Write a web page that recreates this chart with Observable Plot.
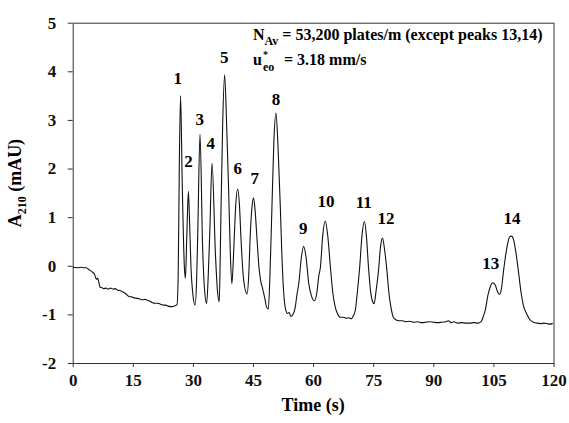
<!DOCTYPE html>
<html>
<head>
<meta charset="utf-8">
<script src="https://cdn.jsdelivr.net/npm/d3@7"></script>
<script src="https://cdn.jsdelivr.net/npm/@observablehq/plot@0.6"></script>
<style>
  html, body { margin: 0; padding: 0; background: #fff; }
  #chart svg { display: block; }
</style>
</head>
<body>
<div id="chart"></div>
<script>
// Electropherogram: absorbance at 210 nm versus migration time
const time = [
  0, 1.0, 2.0, 2.6, 3.2, 3.8, 4.3, 4.8, 5.3, 5.8, 6.1, 6.4, 6.7, 7.2, 7.6, 8.2, 8.8, 9.3, 10.0, 10.5,
  11.0, 11.6, 12.2, 12.7, 13.3, 13.9, 14.6, 15.2, 16.0, 16.8, 17.5, 18.0, 18.5, 19.2, 19.8, 20.4, 21.0, 21.8, 22.5, 23.1,
  23.7, 24.3, 24.8, 25.4, 25.9, 26.2, 26.5, 26.8, 27.2, 27.75, 28.0, 28.35, 28.75, 29.05, 29.4, 29.9, 30.4, 30.8, 31.1, 31.65,
  32.3, 32.8, 33.3, 33.7, 34.1, 34.65, 35.5, 36.0, 36.45, 36.7, 36.9, 37.3, 37.8, 38.3, 38.8, 39.2, 39.6, 40.0, 40.3, 40.6,
  41.05, 41.5, 41.9, 42.5, 43.4, 43.8, 44.2, 44.6, 45.0, 45.4, 45.9, 46.4, 46.8, 47.3, 47.8, 48.3, 48.7, 49.1, 49.6, 50.1,
  50.6, 51.1, 51.7, 52.1, 52.5, 53.0, 53.5, 53.9, 54.3, 54.8, 55.4, 55.9, 56.3, 56.9, 57.5, 58.1, 58.8, 59.5, 60.2, 60.8,
  61.3, 61.7, 62.3, 62.9, 63.5, 64.2, 64.8, 65.4, 66.0, 66.7, 67.4, 68.2, 68.8, 69.4, 69.9, 70.4, 70.9, 71.5, 72.1, 72.7,
  73.2, 73.7, 74.2, 74.7, 75.1, 75.6, 76.2, 76.7, 77.2, 77.7, 78.3, 78.8, 79.3, 79.9, 80.5, 81.3, 82.2, 83.0, 84.0, 85.0,
  86.0, 87.0, 88.0, 89.0, 90.0, 91.0, 92.0, 93.0, 93.7, 94.3, 95.0, 96.0, 97.0, 98.0, 99.0, 100.0, 101.0, 101.8, 102.4, 102.9,
  103.5, 104.1, 104.7, 105.3, 105.9, 106.4, 106.9, 107.4, 107.8, 108.4, 108.9, 109.4, 109.9, 110.5, 111.1, 111.8, 112.4, 113.2, 114.0, 114.9,
  115.8, 116.7, 117.5, 118.3, 119.0, 119.6
];
const absorbance = [
  -0.02, -0.03, -0.02, -0.03, -0.03, -0.06, -0.09, -0.12, -0.16, -0.27, -0.24, -0.33, -0.43, -0.44, -0.46, -0.45, -0.47, -0.45, -0.47, -0.46,
  -0.49, -0.50, -0.52, -0.54, -0.58, -0.62, -0.63, -0.65, -0.66, -0.68, -0.69, -0.68, -0.70, -0.72, -0.75, -0.76, -0.76, -0.78, -0.80, -0.80,
  -0.82, -0.83, -0.83, -0.81, -0.79, -0.20, 2.20, 3.51, 1.76, -0.02, -0.25, 0.60, 1.54, 0.90, -0.02, -0.60, -0.80, -0.30, 0.73, 2.72,
  0.39, -0.50, -0.77, -0.20, 0.73, 2.12, 0.25, -0.50, -0.73, 0.20, 1.21, 2.90, 3.94, 2.90, 1.56, 0.30, -0.36, 0.20, 0.80, 1.30,
  1.59, 1.25, 0.53, -0.25, -0.57, -0.20, 0.67, 1.20, 1.41, 1.15, 0.53, -0.05, -0.30, -0.47, -0.65, -0.85, -0.88, -0.20, 1.21, 2.60,
  3.15, 2.50, 1.21, 0.20, -0.50, -0.88, -0.97, -0.95, -1.03, -1.00, -0.85, -0.55, -0.36, 0.15, 0.41, 0.20, -0.36, -0.62, -0.71, -0.55,
  -0.20, -0.02, 0.65, 0.93, 0.65, -0.02, -0.55, -0.84, -0.98, -1.05, -1.05, -1.07, -1.06, -1.08, -1.02, -0.91, -0.55, -0.02, 0.65, 0.92,
  0.60, -0.02, -0.50, -0.72, -0.77, -0.50, -0.09, 0.40, 0.58, 0.35, -0.09, -0.55, -0.84, -1.05, -1.10, -1.12, -1.12, -1.14, -1.13, -1.15,
  -1.14, -1.16, -1.15, -1.14, -1.15, -1.16, -1.15, -1.14, -1.12, -1.16, -1.14, -1.17, -1.16, -1.17, -1.17, -1.16, -1.17, -1.14, -1.02, -0.88,
  -0.60, -0.42, -0.34, -0.38, -0.52, -0.58, -0.45, -0.10, 0.15, 0.45, 0.60, 0.62, 0.55, 0.28, -0.09, -0.55, -0.82, -0.98, -1.10, -1.15,
  -1.17, -1.18, -1.17, -1.18, -1.19, -1.18
];

// Peak numbers and where each number sits (time, absorbance)
const peakNumbers = ["1", "2", "3", "4", "5", "6", "7", "8", "9", "10", "11", "12", "13", "14"];
const labelTime = [26.1, 28.8, 31.6, 34.3, 37.7, 41.05, 45.3, 50.6, 57.4, 63.1, 72.5, 78.1, 104.2, 109.5];
const labelAbs = [3.86, 2.16, 3.01, 2.52, 4.30, 2.0, 1.80, 3.43, 0.77, 1.34, 1.32, 0.98, 0.06, 0.98];

const xTicks = [0, 15, 30, 45, 60, 75, 90, 105, 120];
const yTicks = [-2, -1, 0, 1, 2, 3, 4, 5];

const trace = time.map((t, i) => ({t, a: absorbance[i]}));
const labels = peakNumbers.map((n, i) => ({n, t: labelTime[i], a: labelAbs[i]}));

const serif = "'Liberation Serif', 'Times New Roman', Times, serif";

const plot = Plot.plot({
  width: 569,
  height: 423,
  marginLeft: 72.7,
  marginRight: 15.5,
  marginTop: 22.7,
  marginBottom: 60,
  style: {fontFamily: serif, fontSize: "17px", fontWeight: "bold", color: "#111", background: "#fff"},
  x: {domain: [0, 120]},
  y: {domain: [-2, 5]},
  marks: [
    Plot.frame({stroke: "#333", strokeWidth: 1}),
    Plot.axisX(xTicks, {tickSize: 4, tickPadding: 6, tickFormat: d => String(d), label: null, stroke: "#333"}),
    Plot.axisY(yTicks, {tickSize: 5, tickPadding: 12, tickFormat: d => String(d), label: null, stroke: "#333"}),
    Plot.line(trace, {x: "t", y: "a", curve: "monotone-x", stroke: "#111", strokeWidth: 1.1}),
    Plot.text(labels, {x: "t", y: "a", text: "n", fontSize: 17, fontWeight: "bold", fill: "#000"})
  ]
});

document.getElementById("chart").appendChild(plot);

// Titles and the annotation, which need sub/superscripts
const svg = d3.select(plot);
const sx = plot.scale("x");
const sy = plot.scale("y");
const g = svg.append("g")
  .attr("font-family", serif)
  .attr("font-weight", "bold")
  .attr("text-anchor", "start")
  .attr("fill", "#000");

// x-axis title
g.append("text")
  .attr("x", (sx.apply(0) + sx.apply(120)) / 2)
  .attr("y", 411)
  .attr("text-anchor", "middle")
  .attr("font-size", 18)
  .text("Time (s)");

// y-axis title
const yt = g.append("text")
  .attr("transform", `translate(21,${sy.apply(1.7)}) rotate(-90)`)
  .attr("text-anchor", "middle")
  .attr("font-size", 18);
yt.append("tspan").text("A");
yt.append("tspan").attr("font-size", 12).attr("dy", 5).text("210");
yt.append("tspan").attr("dy", -5).text(" (mAU)");

// annotation
const ax = sx.apply(45);
const y1 = sy.apply(4.64);
const y2 = sy.apply(4.13);
const a1 = g.append("text").attr("x", ax).attr("y", y1).attr("font-size", 16);
a1.append("tspan").text("N");
a1.append("tspan").attr("font-size", 12).attr("dy", 5).text("Av");
a1.append("tspan").attr("dy", -5).text(" = 53,200 plates/m (except peaks 13,14)");

g.append("text").attr("x", ax).attr("y", y2).attr("font-size", 16).text("u");
g.append("text").attr("x", ax + 10).attr("y", y2 - 6.5).attr("font-size", 10).text("*");
g.append("text").attr("x", ax + 10).attr("y", y2 + 6).attr("font-size", 12).text("eo");
g.append("text").attr("x", ax + 31).attr("y", y2).attr("font-size", 16).text("= 3.18 mm/s");
</script>
</body>
</html>
